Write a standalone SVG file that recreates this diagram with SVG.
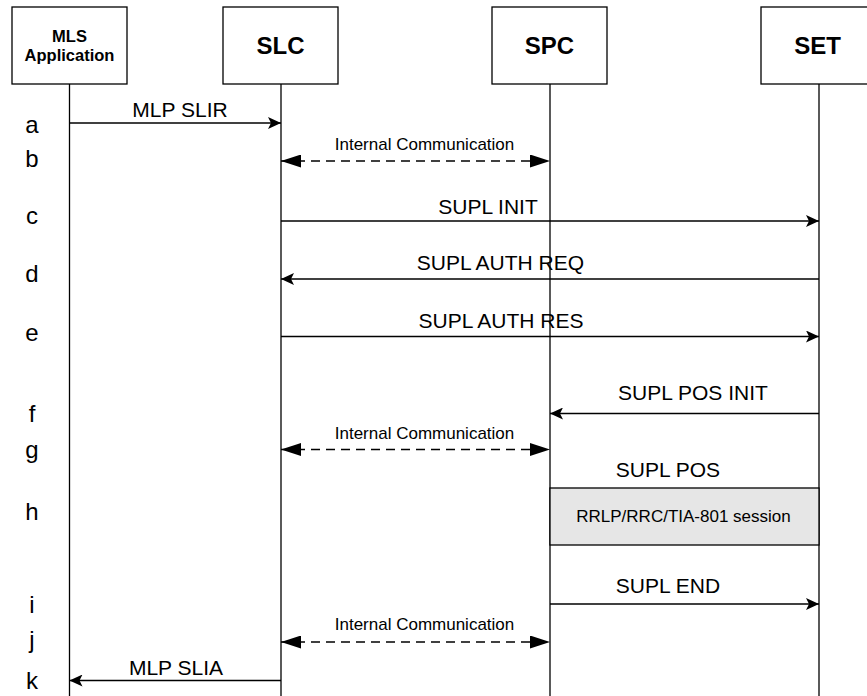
<svg xmlns="http://www.w3.org/2000/svg" width="867" height="696" viewBox="0 0 867 696">
<style>
.box{fill:#fff;stroke:#000;stroke-width:1.3}
.life{stroke:#000;stroke-width:1.3;fill:none}
.msg{stroke:#000;stroke-width:1.3;fill:none}
.dash{stroke:#000;stroke-width:1.3;fill:none;stroke-dasharray:9 6}
.t{font-family:"Liberation Sans",Arial,sans-serif;fill:#000}
.hb{font-weight:bold;font-size:24px;text-anchor:middle}
.hs{font-weight:bold;font-size:16.5px;text-anchor:middle}
.lbl{font-size:21px;text-anchor:middle}
.sm{font-size:17px;text-anchor:middle}
.row{font-size:24px;text-anchor:middle}
</style>
<defs>
<marker id="ah" viewBox="0 0 13 12" refX="13" refY="6" markerWidth="13" markerHeight="12" markerUnits="userSpaceOnUse" orient="auto-start-reverse">
<path d="M0,0 L13,6 L0,12 L3,6 Z" fill="#000"/>
</marker>
<marker id="ahb" viewBox="0 0 20 13" refX="20" refY="6.5" markerWidth="20" markerHeight="13" markerUnits="userSpaceOnUse" orient="auto-start-reverse">
<path d="M0,0 L20,6.5 L0,13 Z" fill="#000"/>
</marker>
</defs>
<rect width="867" height="696" fill="#fff"/>
<g id="node-mls">
<rect class="box" x="12" y="7" width="115" height="77"/>
<text class="t hs" x="69.5" y="41.5">MLS</text>
<text class="t hs" x="69.5" y="61">Application</text>
<line class="life" x1="69.5" y1="84" x2="69.5" y2="696"/>
</g>
<g id="node-slc">
<rect class="box" x="223" y="7" width="115" height="77"/>
<text class="t hb" x="280.5" y="54">SLC</text>
<line class="life" x1="281" y1="84" x2="281" y2="696"/>
</g>
<g id="node-spc">
<rect class="box" x="492" y="7" width="115" height="77"/>
<text class="t hb" x="549.5" y="54">SPC</text>
<line class="life" x1="550" y1="84" x2="550" y2="696"/>
</g>
<g id="node-set">
<rect class="box" x="761" y="7" width="115" height="77"/>
<text class="t hb" x="817.5" y="54">SET</text>
<line class="life" x1="819" y1="84" x2="819" y2="696"/>
</g>
<g id="node-session">
<rect x="550" y="488" width="269" height="57" fill="#e6e6e6" stroke="#000" stroke-width="1.3"/>
<text class="t sm" x="683.5" y="522">RRLP/RRC/TIA-801 session</text>
</g>
<g id="rows">
<text class="t row" x="32" y="133">a</text>
<text class="t row" x="32" y="166.5">b</text>
<text class="t row" x="32" y="224">c</text>
<text class="t row" x="32" y="281.5">d</text>
<text class="t row" x="32" y="340.5">e</text>
<text class="t row" x="32" y="421.5">f</text>
<text class="t row" x="32" y="458">g</text>
<text class="t row" x="32" y="520">h</text>
<text class="t row" x="32" y="612.5">i</text>
<text class="t row" x="32" y="648">j</text>
<text class="t row" x="32" y="689">k</text>
</g>
<g id="connectors">
<line class="msg" x1="69.5" y1="123" x2="281" y2="123" marker-end="url(#ah)"/>
<text class="t lbl" x="180" y="117">MLP SLIR</text>
<line class="dash" x1="281" y1="161" x2="550" y2="161" marker-start="url(#ahb)" marker-end="url(#ahb)"/>
<text class="t sm" x="424.5" y="149.5">Internal Communication</text>
<line class="msg" x1="281" y1="221" x2="819" y2="221" marker-end="url(#ah)"/>
<text class="t lbl" x="488" y="213.5">SUPL INIT</text>
<line class="msg" x1="819" y1="279" x2="281" y2="279" marker-end="url(#ah)"/>
<text class="t lbl" x="500.5" y="270">SUPL AUTH REQ</text>
<line class="msg" x1="281" y1="336.5" x2="819" y2="336.5" marker-end="url(#ah)"/>
<text class="t lbl" x="501" y="327.5">SUPL AUTH RES</text>
<line class="msg" x1="819" y1="413.5" x2="550" y2="413.5" marker-end="url(#ah)"/>
<text class="t lbl" x="693" y="400">SUPL POS INIT</text>
<line class="dash" x1="281" y1="449.5" x2="550" y2="449.5" marker-start="url(#ahb)" marker-end="url(#ahb)"/>
<text class="t sm" x="424.5" y="438.5">Internal Communication</text>
<text class="t lbl" x="668" y="476.5">SUPL POS</text>
<line class="msg" x1="550" y1="604" x2="819" y2="604" marker-end="url(#ah)"/>
<text class="t lbl" x="668" y="592.5">SUPL END</text>
<line class="dash" x1="281" y1="642" x2="550" y2="642" marker-start="url(#ahb)" marker-end="url(#ahb)"/>
<text class="t sm" x="424.5" y="630">Internal Communication</text>
<line class="msg" x1="281" y1="680.5" x2="69.5" y2="680.5" marker-end="url(#ah)"/>
<text class="t lbl" x="176" y="675">MLP SLIA</text>
</g>
</svg>
